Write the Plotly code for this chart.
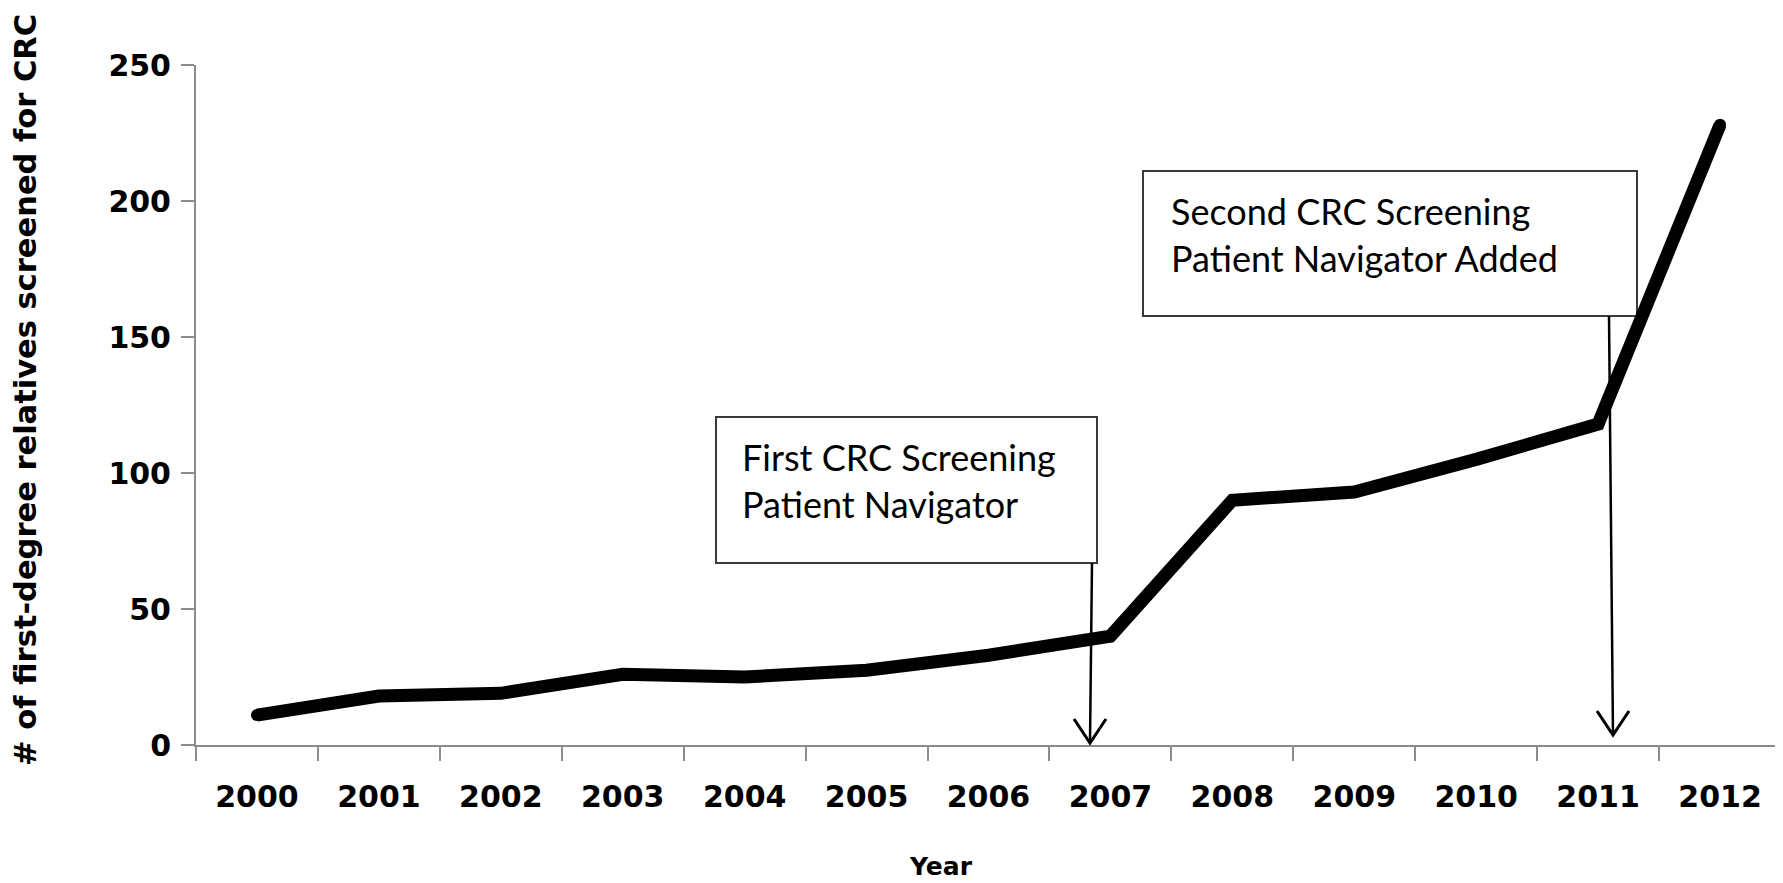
import plotly.graph_objects as go

# ---- data ----
years = ["2000", "2001", "2002", "2003", "2004", "2005", "2006",
         "2007", "2008", "2009", "2010", "2011", "2012"]
screened = [11, 18, 19, 26, 25, 27.5, 33, 40, 90, 93, 105, 118, 228]
y_ticks = [0, 50, 100, 150, 200, 250]

y_title = "# of first-degree relatives screened for CRC"
x_title = "Year"
note1 = "First CRC Screening<br>Patient Navigator"
note2 = "Second CRC Screening<br>Patient Navigator Added"

# ---- geometry helpers (window pixel -> paper) ----
W, H = 1783, 883
OFF = 8  # default body margin of the html page
PX0, PX1, PY0, PY1 = 196, 1781, 65, 745


def px(x):
    return (x - PX0) / (PX1 - PX0)


def py(y):
    return (PY1 - y) / (PY1 - PY0)


AXIS_COL = "#8c8c8c"
TICK_FONT = dict(family="DejaVu Sans", size=30, color="black", weight="bold")

fig = go.Figure()
fig.add_trace(go.Scatter(
    x=years, y=screened, mode="lines+markers",
    line=dict(color="black", width=13),
    marker=dict(color="black", size=12),
    hoverinfo="skip", showlegend=False,
))

shapes = []
# annotation boxes
for (x0, y0, x1, y1) in [(716, 417, 1097, 563), (1143, 171, 1637, 316)]:
    shapes.append(dict(type="rect", xref="paper", yref="paper",
                       x0=px(x0), x1=px(x1), y0=py(y1), y1=py(y0),
                       line=dict(color="#3a3a3a", width=2),
                       fillcolor="white", layer="below"))
# arrows
for (xt, yt, xb, yb) in [(1092, 563, 1090, 743), (1609, 316, 1613, 735)]:
    shapes.append(dict(type="line", xref="paper", yref="paper",
                       x0=px(xt), y0=py(yt), x1=px(xb), y1=py(yb),
                       line=dict(color="black", width=2.5), layer="above"))
    path = "M {},{} L {},{} L {},{}".format(
        px(xb - 16), py(yb - 24), px(xb), py(yb), px(xb + 16), py(yb - 24))
    shapes.append(dict(type="path", xref="paper", yref="paper", path=path,
                       line=dict(color="black", width=3), layer="above"))

annotations = [
    dict(text=y_title, textangle=-90, xref="paper", yref="paper",
         x=px(25), y=py(390), xanchor="center", yanchor="middle",
         showarrow=False,
         font=dict(family="DejaVu Sans", size=30.5, color="black", weight="bold")),
    dict(text=x_title, xref="paper", yref="paper",
         x=px(941), y=py(866), xanchor="center", yanchor="middle",
         showarrow=False,
         font=dict(family="DejaVu Sans", size=25, color="black", weight="bold")),
    dict(text=note1, xref="paper", yref="paper", x=px(740), y=py(480),
         xanchor="left", yanchor="middle", align="left", showarrow=False,
         font=dict(family="Lato", size=36, color="black")),
    dict(text=note2, xref="paper", yref="paper", x=px(1169), y=py(234),
         xanchor="left", yanchor="middle", align="left", showarrow=False,
         font=dict(family="Lato", size=36, color="black")),
]

fig.update_layout(
    width=W, height=H, autosize=False,
    margin=dict(l=PX0 - OFF, r=W - (PX1 - OFF), t=PY0 - OFF,
                b=H - (PY1 - OFF), pad=0),
    paper_bgcolor="white", plot_bgcolor="white",
    shapes=shapes, annotations=annotations,
    xaxis=dict(type="category", categoryorder="array", categoryarray=years,
               range=[-0.5, len(years) - 0.5], tickson="boundaries",
               ticks="outside", ticklen=14, tickwidth=2, tickcolor=AXIS_COL,
               showline=True, linecolor=AXIS_COL, linewidth=2,
               showgrid=False, zeroline=False, tickfont=TICK_FONT,
               ticklabelstandoff=24),
    yaxis=dict(range=[0, 250], tickvals=y_ticks, ticks="outside", ticklen=13,
               tickwidth=2, tickcolor=AXIS_COL, showline=True,
               linecolor=AXIS_COL, linewidth=2, showgrid=False,
               zeroline=False, tickfont=TICK_FONT, ticklabelstandoff=4),
)

fig.write_html("out.html")
